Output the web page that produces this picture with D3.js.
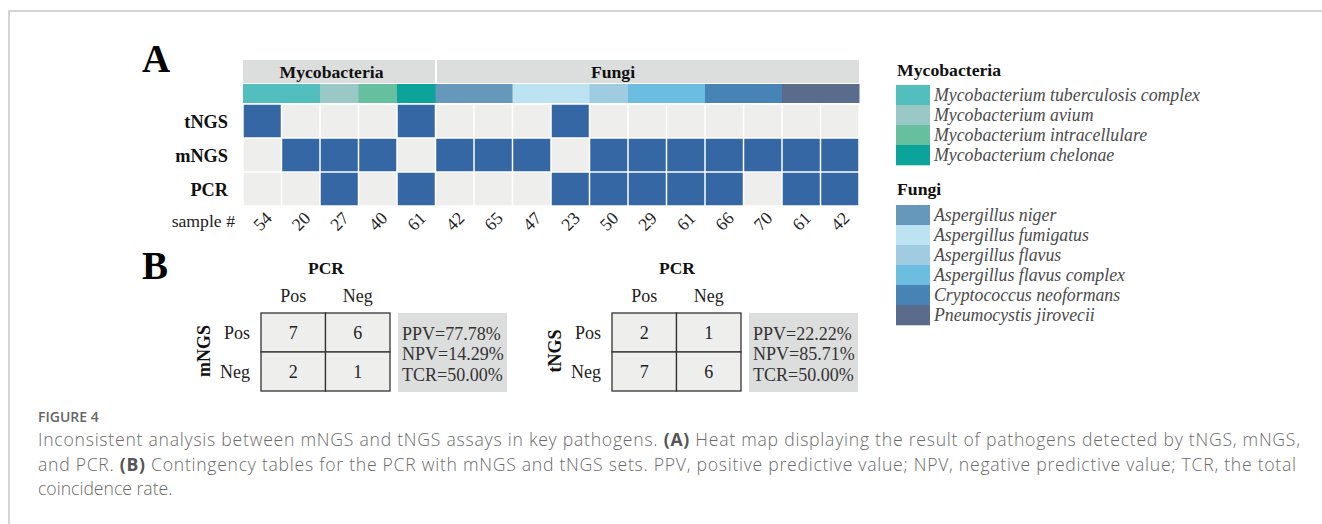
<!DOCTYPE html>
<html><head><meta charset="utf-8">
<script src="https://cdn.jsdelivr.net/npm/d3@7/dist/d3.min.js"></script>
<style>body{margin:0;background:#fff}svg{display:block}</style>
</head><body>
<svg id="c" width="1322" height="524"></svg>
<script>
// ---- data ----
const samples = ["54","20","27","40","61","42","65","47","23","50","29","61","66","70","61","42"];
const colSpecies = ["MTBC","MTBC","Mav","Mint","Mche","Ani","Ani","Afu","Afu","Afl","Aflc","Aflc","Cne","Cne","Pji","Pji"];
const colGroup = ["Mycobacteria","Mycobacteria","Mycobacteria","Mycobacteria","Mycobacteria","Fungi","Fungi","Fungi","Fungi","Fungi","Fungi","Fungi","Fungi","Fungi","Fungi","Fungi"];
const groups = ["Mycobacteria","Fungi"];
const assays = ["tNGS","mNGS","PCR"];
const tNGS = [1,0,0,0,1,0,0,0,1,0,0,0,0,0,0,0];
const mNGS = [0,1,1,1,0,1,1,1,0,1,1,1,1,1,1,1];
const PCR  = [0,0,1,0,1,0,0,0,1,1,1,1,1,0,1,1];
const mycoKeys = ["MTBC","Mav","Mint","Mche"];
const mycoNames = ["Mycobacterium tuberculosis complex","Mycobacterium avium","Mycobacterium intracellulare","Mycobacterium chelonae"];
const fungiKeys = ["Ani","Afu","Afl","Aflc","Cne","Pji"];
const fungiNames = ["Aspergillus niger","Aspergillus fumigatus","Aspergillus flavus","Aspergillus flavus complex","Cryptococcus neoformans","Pneumocystis jirovecii"];
const speciesColors = ["#52bfbe","#99c8c7","#66c09f","#0ba39a","#6698bb","#bde3f2","#a0cce2","#6bbee0","#4784b5","#5b6b8c"];
const tableLabels = ["Pos","Neg"];
const mngsTable = [[7,6],[2,1]];
const tngsTable = [[2,1],[7,6]];
const mngsStats = ["PPV=77.78%","NPV=14.29%","TCR=50.00%"];
const tngsStats = ["PPV=22.22%","NPV=85.71%","TCR=50.00%"];
const captionTitle = "FIGURE 4";

const svg = d3.select("#c");
const serif = "'Liberation Serif','Times New Roman',serif";
const sans = "'Open Sans','Noto Sans',sans-serif";

// frame
svg.append("path").attr("d","M9,524 V11 H1322").attr("fill","none").attr("stroke","#c8c8c8").attr("stroke-width",1.5);

// ---- heatmap ----
const x = d3.scaleBand().domain(d3.range(samples.length)).range([243,859]);
const y = d3.scaleBand().domain(assays).range([104,206]);
const color = d3.scaleOrdinal().domain(mycoKeys.concat(fungiKeys)).range(speciesColors);
const values = {tNGS, mNGS, PCR};
const headerLabelDx = [-7.5, -35];

// group header
groups.forEach((g,gi)=>{
  const idx = d3.range(samples.length).filter(i=>colGroup[i]===g);
  const x0 = x(idx[0]) + (gi>0?1.5:0), x1 = x(idx[idx.length-1]) + x.bandwidth() - (gi<groups.length-1?0.5:0);
  svg.append("rect").attr("x",x0).attr("y",60).attr("width",x1-x0).attr("height",23).attr("fill","#dcdddd");
  svg.append("text").attr("x",(x0+x1)/2 + headerLabelDx[gi]).attr("y",77.5).attr("text-anchor","middle")
    .attr("font-family",serif).attr("font-weight","bold").attr("font-size",17.7).attr("fill","#111").text(g);
});
// species color bar
svg.selectAll("rect.sp").data(colSpecies).join("rect").attr("class","sp")
  .attr("x",(d,i)=>x(i)).attr("y",84).attr("width",x.bandwidth()+0.5).attr("height",19).attr("fill",d=>color(d));
// cells
assays.forEach(a=>{
  svg.selectAll("rect.c"+a).data(values[a]).join("rect").attr("class","c"+a)
    .attr("x",(d,i)=>x(i)+0.75).attr("y",y(a)+0.75).attr("width",x.bandwidth()-1.5).attr("height",y.bandwidth()-1.5)
    .attr("fill",d=>d?"#3567a5":"#eeeeed");
  svg.append("text").attr("x",228).attr("y",y(a)+y.bandwidth()/2+6.5).attr("text-anchor","end")
    .attr("font-family",serif).attr("font-weight","bold").attr("font-size",18.3).attr("fill","#111").text(a);
});
// sample labels
svg.append("text").attr("x",235).attr("y",227).attr("text-anchor","end").attr("font-family",serif).attr("font-size",17.7).attr("fill","#222").text("sample #");
svg.selectAll("text.s").data(samples).join("text").attr("class","s")
  .attr("transform",(d,i)=>`translate(${x(i)+x.bandwidth()/2},${221}) rotate(-45)`)
  .attr("text-anchor","middle").attr("dy","0.35em").attr("font-family",serif).attr("font-size",17.7).attr("fill","#222").text(d=>d);

// panel letters
svg.append("text").attr("x",142).attr("y",72).attr("font-family",serif).attr("font-weight","bold").attr("font-size",39).attr("fill","#000").text("A");
svg.append("text").attr("x",142).attr("y",279).attr("font-family",serif).attr("font-weight","bold").attr("font-size",39).attr("fill","#000").text("B");

// ---- legend ----
function legend(title, keys, names, ty, sy){
  svg.append("text").attr("x",897).attr("y",ty).attr("font-family",serif).attr("font-weight","bold").attr("font-size",17.7).attr("fill","#111").text(title);
  const ly = d3.scaleBand().domain(keys).range([sy, sy+20*keys.length]);
  keys.forEach((k,i)=>{
    svg.append("rect").attr("x",896).attr("y",ly(k)).attr("width",34).attr("height",ly.bandwidth()+0.3).attr("fill",color(k));
    svg.append("text").attr("x",934).attr("y",ly(k)+15.5).attr("font-family",serif).attr("font-style","italic").attr("font-size",17.8).attr("fill","#4a4a4a").text(names[i]);
  });
}
legend("Mycobacteria", mycoKeys, mycoNames, 76, 85);
legend("Fungi", fungiKeys, fungiNames, 195, 205);

// ---- contingency tables ----
function table(ox, rowName, vals, stats){
  const tx = d3.scaleBand().domain(tableLabels).range([ox, ox+129]);
  const ty = d3.scaleBand().domain(tableLabels).range([313, 391]);
  svg.append("text").attr("x",ox+65).attr("y",274).attr("text-anchor","middle").attr("font-family",serif).attr("font-weight","bold").attr("font-size",17.5).attr("fill","#111").text("PCR");
  tableLabels.forEach((c,ci)=>{
    svg.append("text").attr("x",tx(c)+tx.bandwidth()/2).attr("y",302).attr("text-anchor","middle").attr("font-family",serif).attr("font-size",18).attr("fill","#222").text(c);
    svg.append("text").attr("x",ox-11).attr("y",ty(c)+ty.bandwidth()/2+6).attr("text-anchor","end").attr("font-family",serif).attr("font-size",18).attr("fill","#222").text(c);
  });
  tableLabels.forEach((r,ri)=>tableLabels.forEach((c,ci)=>{
    svg.append("rect").attr("x",tx(c)).attr("y",ty(r)).attr("width",tx.bandwidth()).attr("height",ty.bandwidth())
      .attr("fill","#eeeeed").attr("stroke","#333").attr("stroke-width",1.3);
    svg.append("text").attr("x",tx(c)+tx.bandwidth()/2).attr("y",ty(r)+ty.bandwidth()/2+6).attr("text-anchor","middle")
      .attr("font-family",serif).attr("font-size",18).attr("fill","#222").text(vals[ri][ci]);
  }));
  svg.append("text").attr("transform",`translate(${ox-51},351) rotate(-90)`).attr("text-anchor","middle").attr("font-family",serif).attr("font-weight","bold").attr("font-size",18).attr("fill","#111").text(rowName);
  svg.append("rect").attr("x",ox+137).attr("y",313).attr("width",109).attr("height",79).attr("fill","#dcdddd");
  stats.forEach((s,i)=>svg.append("text").attr("x",ox+141).attr("y",339.5+20.5*i).attr("font-family",serif).attr("font-size",18).attr("fill","#333").text(s));
}
table(261, "mNGS", mngsTable, mngsStats);
table(612, "tNGS", tngsTable, tngsStats);

// ---- caption ----
svg.append("text").attr("x",38).attr("y",422).attr("font-family",sans).attr("font-weight",600).attr("font-size",14).attr("fill","#666").text(captionTitle);
const lines = [
  [["Inconsistent analysis between mNGS and tNGS assays in key pathogens. ",0],["(A)",1],[" Heat map displaying the result of pathogens detected by tNGS, mNGS,",0]],
  [["and PCR. ",0],["(B)",1],[" Contingency tables for the PCR with mNGS and tNGS sets. PPV, positive predictive value; NPV, negative predictive value; TCR, the total",0]],
  [["coincidence rate.",0]]
];
const lineW = [1262,1258,null];
lines.forEach((ln,i)=>{
  const t = svg.append("text").attr("x",38).attr("y",446+24.5*i).attr("font-family",sans).attr("font-weight",300).attr("font-size",17.6).attr("fill","#6a6a6a");
  ln.forEach(([s,b])=>t.append("tspan").attr("font-weight",b?700:300).attr("fill",b?"#555":"#6a6a6a").text(s));
  if(lineW[i]) t.attr("textLength",lineW[i]).attr("lengthAdjust","spacing");
});
</script>
</body></html>
